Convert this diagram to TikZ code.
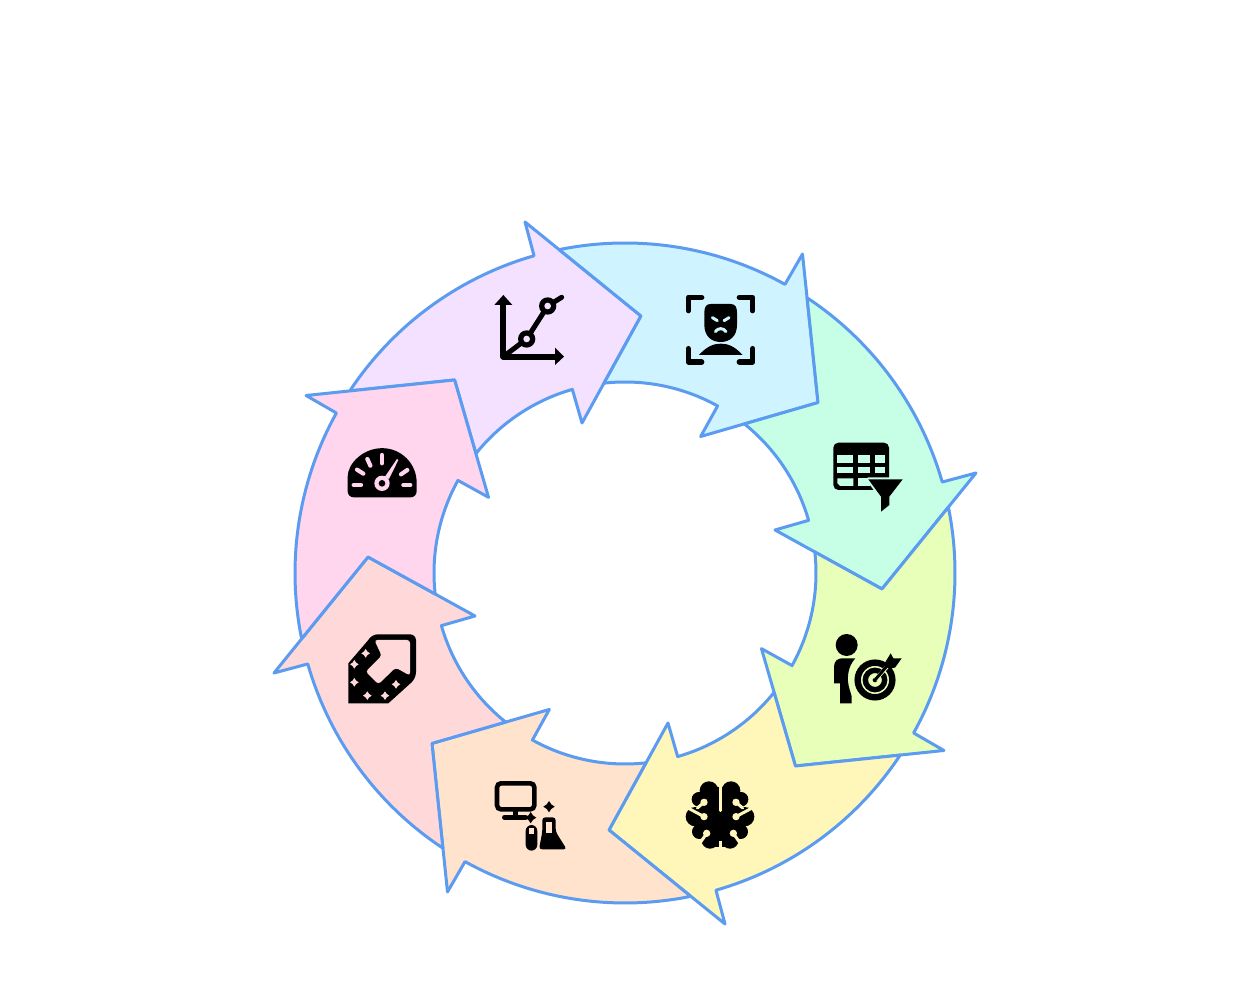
\documentclass[tikz,border=0pt]{standalone}
\definecolor{cPurple}{HTML}{F4E1FF}
\definecolor{cCyan}{HTML}{D0F4FF}
\definecolor{cGreen}{HTML}{C6FFE6}
\definecolor{cLime}{HTML}{E8FFBA}
\definecolor{cYellow}{HTML}{FFF6BA}
\definecolor{cPeach}{HTML}{FFE3CC}
\definecolor{cRed}{HTML}{FFD9D9}
\definecolor{cPink}{HTML}{FFD6EE}
\definecolor{cStroke}{HTML}{5B9BF0}
\tikzset{
  ringarrow/.style={draw=cStroke,line width=3pt,line join=round},
  icon/.style={shift={#1},scale=1/3},
  bar/.style={draw=black,line width=5.4pt,line cap=round,line join=round}
}
\newcommand{\sparkle}[4]{\fill[#4] (#1,#2-#3) -- (#1+.4*#3,#2-.4*#3) -- (#1+#3,#2) -- (#1+.4*#3,#2+.4*#3) -- (#1,#2+#3) -- (#1-.4*#3,#2+.4*#3) -- (#1-#3,#2) -- (#1-.4*#3,#2-.4*#3) -- cycle;}
\begin{document}
\begin{tikzpicture}[x=1pt,y=1pt]
\useasboundingbox (0,0) rectangle (1250,981);
\fill[white] (0,0) rectangle (1250,981);
\foreach \k/\c in {0/cPurple,1/cCyan,2/cGreen,3/cLime,4/cYellow,5/cPeach,6/cRed,7/cPink}{
  \begin{scope}[shift={(625,408)},rotate=-45*\k]
    \filldraw[ringarrow,fill=\c] (16,257) -- (-43,150) -- (106:191)
      arc[start angle=106,end angle=141.3,radius=191]
      -- (131.44:257.5) -- (146.5:330)
      arc[start angle=146.5,end angle=106,radius=330]
      -- (-100,351) -- cycle;
  \end{scope}
}
\begin{scope}[shift={(0,981)},yscale=-1]
  % chart
  \begin{scope}[icon={(480,280)}]
    \draw[black,line width=6pt,line cap=round,line join=round] (70,70) -- (70,230) -- (230,230);
    \fill (70,45) -- (97,75) -- (43,75) -- cycle;
    \fill (252,230) -- (225,203) -- (225,255) -- cycle;
    \draw[black,line width=5pt,line cap=round,line join=round] (70,230) -- (140,177) -- (203,78) -- (245,52);
    \fill[black] (140,177) circle (26);
    \fill[cPurple] (140,177) circle (10);
    \fill[black] (203,78) circle (26);
    \fill[cPurple] (203,78) circle (10);
  \end{scope}
  % face
  \begin{scope}[icon={(480,280)}]
    \draw[bar] (665,52) -- (625,52) -- (625,92);
    \draw[bar] (778,52) -- (818,52) -- (818,92);
    \draw[bar] (665,246) -- (625,246) -- (625,206);
    \draw[bar] (778,246) -- (818,246) -- (818,206);
    \fill[black] (692,72) -- (752,72) .. controls (766,72) and (771,82) .. (771,98)
      -- (771,135) .. controls (771,168) and (750,186) .. (722,186)
      .. controls (694,186) and (673,168) .. (673,135)
      -- (673,98) .. controls (673,82) and (678,72) .. (692,72) -- cycle;
    \fill[black] (657,225) .. controls (680,200) and (700,191) .. (722,191)
      .. controls (745,191) and (765,200) .. (788,225) -- cycle;
    \draw[cCyan,line width=3pt,line cap=round] (697,113) -- (712,122);
    \draw[cCyan,line width=3pt,line cap=round] (747,113) -- (732,122);
    \draw[cCyan,line width=3pt,line cap=round] (706,155) .. controls (714,143) and (730,143) .. (738,155);
  \end{scope}
  % table and funnel
  \begin{scope}[icon={(820,430)}]
    \fill[black,rounded corners=5pt] (40,38) rectangle (207,180);
    \fill[cGreen] (52,75) rectangle (100,100);
    \fill[cGreen] (115,75) rectangle (150,100);
    \fill[cGreen] (165,75) rectangle (195,100);
    \fill[cGreen] (52,110) rectangle (100,130);
    \fill[cGreen] (115,110) rectangle (150,130);
    \fill[cGreen] (165,110) rectangle (195,130);
    \fill[cGreen] (52,145) -- (100,145) -- (100,168) -- (60,168) -- (52,160) -- cycle;
    \fill[cGreen] (115,145) rectangle (150,168);
    \draw[cGreen,line width=4pt,line join=round] (145,148) -- (248,148) -- (208,200) -- (208,225) -- (183,245) -- (183,200) -- cycle;
    \fill[black] (145,148) -- (248,148) -- (208,200) -- (208,225) -- (183,245) -- (183,200) -- cycle;
  \end{scope}
  % person and target
  \begin{scope}[icon={(820,625)}]
    \fill[black] (80,60) circle (33);
    \fill[black] (42,175) -- (42,125) .. controls (42,108) and (54,100) .. (66,100)
      -- (106,100) .. controls (90,118) and (82,140) .. (84,170) .. controls (86,190) and (92,200) .. (95,215)
      -- (95,235) -- (60,235) -- (60,175) -- cycle;
    \draw[black,line width=6.4pt] (165,165) circle (52);
    \draw[black,line width=5.4pt] (165,165) circle (29);
    \fill[black] (165,165) circle (7);
    \draw[cLime,line width=4pt] (165,165) -- (215,110);
    \draw[black,line width=3pt,line cap=round] (165,165) -- (205,118);
    \fill[black] (192,118) -- (212,85) -- (220,100) -- (245,100) -- (225,128) -- (205,130) -- cycle;
  \end{scope}
  % brain
  \begin{scope}[icon={(675,770)}]
    \foreach \sx in {1,-1}{
      \begin{scope}[shift={(135,0)},xscale=\sx]
        \fill[black] (-33,62) circle (28);
        \fill[black] (-63,88) circle (22);
        \fill[black] (-74,140) circle (29);
        \fill[black] (-62,185) circle (22);
        \fill[black] (-30,210) circle (26);
        \fill[black] (0,50) rectangle (-38,232);
        \fill[black] (0,95) rectangle (-70,195);
        \draw[cYellow,line width=3pt,line cap=round] (-100,112) -- (-48,140);
        \fill[cYellow] (-48,140) circle (11);
        \draw[cYellow,line width=3pt,line cap=round] (-68,114) -- (-48,97);
        \fill[cYellow] (-48,97) circle (11);
        \draw[cYellow,line width=3pt,line cap=round] (-62,222) -- (-40,190);
        \fill[cYellow] (-40,190) circle (11);
      \end{scope}
    }
    \draw[cYellow,line width=3pt,line cap=round] (135,30) -- (135,122);
    \draw[cYellow,line width=3pt] (135,212) -- (135,240);
  \end{scope}
  % monitor and lab
  \begin{scope}[icon={(485,770)}]
    \draw[black,line width=4.6pt,rounded corners=4pt] (36,40) rectangle (148,118);
    \draw[black,line width=4.6pt] (92,118) -- (92,142);
    \draw[black,line width=4.6pt,line cap=round] (58,142) -- (122,142);
    \sparkle{137}{143}{17}{black}
    \sparkle{192}{110}{17}{black}
    \fill[black,rounded corners=6pt] (122,165) rectangle (157,242);
    \fill[cPeach] (131,175) rectangle (148,192);
    \fill[black,rounded corners=3pt] (172,142) -- (212,142) -- (212,185) -- (245,238) -- (162,238) -- (172,185) -- cycle;
    \fill[cPeach] (184,155) rectangle (201,188);
  \end{scope}
  % tag
  \begin{scope}[icon={(335,625)}]
    \fill[black] (40,115) -- (100,45) [rounded corners=6pt] -- (110,28) -- (243,28) -- (243,160) [sharp corners] -- (160,235) -- (40,235) -- cycle;
    \fill[cRed,rounded corners=3pt] (118,45) -- (225,45) -- (225,152) -- (182,128) -- (130,178) -- (92,140) -- (140,92) -- cycle;
    \sparkle{92}{85}{13}{cRed}
    \sparkle{58}{118}{13}{cRed}
    \sparkle{58}{172}{13}{cRed}
    \sparkle{97}{212}{13}{cRed}
    \sparkle{150}{212}{13}{cRed}
    \sparkle{183}{178}{13}{cRed}
  \end{scope}
  % gauge
  \begin{scope}[icon={(335,435)}]
    \fill[black] (38,143) arc[start angle=180,end angle=360,radius=103.5] [rounded corners=6pt] -- (245,187) -- (38,187) -- cycle;
    \draw[cPink,line width=4.2pt,line cap=round] (56,150) -- (78,150);
    \draw[cPink,line width=4.2pt,line cap=round] (66,104) -- (85,116);
    \draw[cPink,line width=4.2pt,line cap=round] (97,72) -- (106,92);
    \draw[cPink,line width=4.2pt,line cap=round] (141,60) -- (141,85);
    \draw[cPink,line width=4.2pt,line cap=round] (198,118) -- (217,105);
    \draw[cPink,line width=4.2pt,line cap=round] (205,150) -- (226,150);
    \fill[cPink] (150,125) -- (186,72) -- (190,75) -- (162,132) -- cycle;
    \fill[cPink] (141,145) circle (23);
    \fill[black] (141,145) circle (10);
  \end{scope}
\end{scope}
\end{tikzpicture}
\end{document}
